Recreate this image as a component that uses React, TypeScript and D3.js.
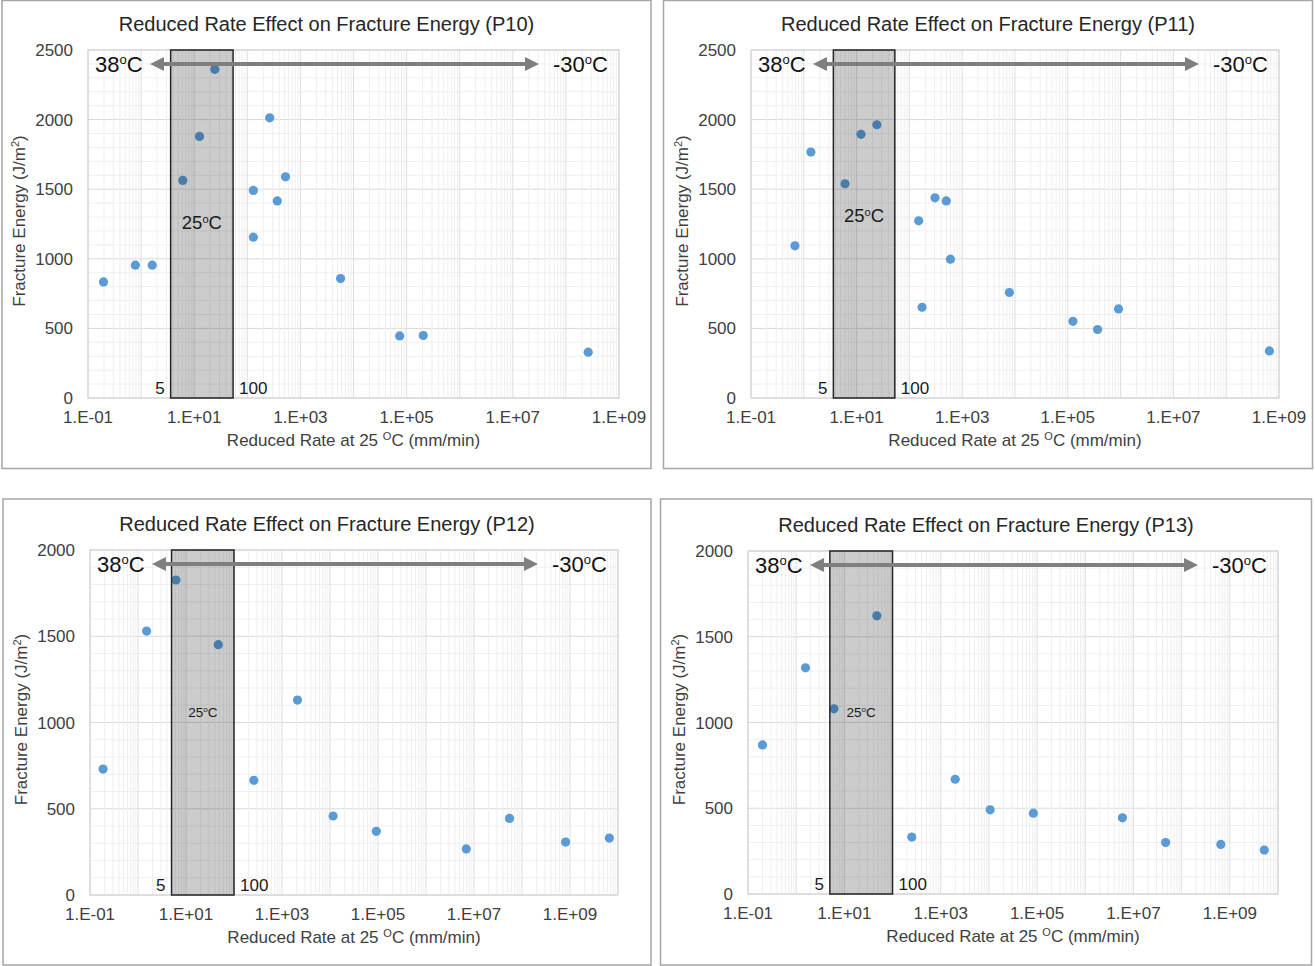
import React from "react";
import * as d3 from "d3";

// ---------- data ----------
const p10Rates = [0.196, 0.78, 1.62, 6.1, 12.6, 24.4, 130, 130, 264, 367, 525, 5710, 74000, 206000, 2.63e8];
const p10Energy = [834, 954, 954, 1563, 1879, 2361, 1491, 1155, 2013, 1416, 1589, 858, 446, 449, 329];

const p11Rates = [0.68, 1.36, 6.05, 12.1, 24.2, 150, 174, 305, 499, 599, 7830, 125000, 366000, 912000, 6.58e8];
const p11Energy = [1093, 1767, 1539, 1894, 1963, 1273, 652, 1438, 1416, 997, 758, 551, 492, 640, 338];

const p12Rates = [0.187, 1.51, 6.17, 47, 259, 2100, 11600, 92300, 6.9e6, 5.5e7, 8.1e8, 6.6e9];
const p12Energy = [730, 1530, 1826, 1451, 665, 1130, 458, 369, 267, 444, 307, 330];

const p13Rates = [0.2, 1.56, 6.08, 47.2, 251, 1995, 10600, 83700, 5.9e6, 4.65e7, 6.5e8, 5.2e9];
const p13Energy = [869, 1319, 1080, 1622, 332, 669, 491, 471, 444, 300, 289, 256];

// shaded 25°C band (drawn extent, in mm/min)
const p10Band = [3.6, 54];
const p11Band = [3.63, 53];
const p12Band = [5, 100];
const p13Band = [5, 100];

const xTickValues = [1e-1, 1e1, 1e3, 1e5, 1e7, 1e9];
const xTickLabels = ["1.E-01", "1.E+01", "1.E+03", "1.E+05", "1.E+07", "1.E+09"];
const yTicksTop = [0, 500, 1000, 1500, 2000, 2500];
const yTicksBottom = [0, 500, 1000, 1500, 2000];
const bandLabels = ["5", "100"];

const FONT = "'Liberation Sans', Arial, Helvetica, sans-serif";

type PanelCfg = {
  name: string;
  rates: number[];
  energy: number[];
  band: number[];
  yTicks: number[];
  xMax: number;
  frame: { x: number; y: number; w: number; h: number };
  plot: { l: number; r: number; t: number; b: number };
  bandFont: number;
  bandLabelY: number;
};

const panels: PanelCfg[] = [
  {
    name: "P10", rates: p10Rates, energy: p10Energy, band: p10Band, yTicks: yTicksTop, xMax: 1e9,
    frame: { x: 2, y: 0.5, w: 649, h: 468 }, plot: { l: 88, r: 619, t: 50, b: 398 }, bandFont: 18.5, bandLabelY: 172,
  },
  {
    name: "P11", rates: p11Rates, energy: p11Energy, band: p11Band, yTicks: yTicksTop, xMax: 1e9,
    frame: { x: 663.5, y: 0.5, w: 649, h: 468 }, plot: { l: 751, r: 1279, t: 50, b: 398 }, bandFont: 18.5, bandLabelY: 165,
  },
  {
    name: "P12", rates: p12Rates, energy: p12Energy, band: p12Band, yTicks: yTicksBottom, xMax: 1e10,
    frame: { x: 3, y: 499, w: 648, h: 466 }, plot: { l: 90, r: 618, t: 550, b: 895 }, bandFont: 13.5, bandLabelY: 162,
  },
  {
    name: "P13", rates: p13Rates, energy: p13Energy, band: p13Band, yTicks: yTicksBottom, xMax: 1e10,
    frame: { x: 660.5, y: 499, w: 651, h: 466 }, plot: { l: 748, r: 1278, t: 551, b: 894 }, bandFont: 13.5, bandLabelY: 161,
  },
];

function Sup({ children, size, shift }: { children: any; size: number; shift: number }) {
  return (
    <tspan fontSize={size} baselineShift={shift}>
      {children}
    </tspan>
  );
}

function Panel({ cfg }: { cfg: PanelCfg }) {
  const { plot, frame } = cfg;
  const yMax = cfg.yTicks[cfg.yTicks.length - 1];
  const x = d3.scaleLog().domain([1e-1, cfg.xMax]).range([plot.l, plot.r]);
  const y = d3.scaleLinear().domain([0, yMax]).range([plot.b, plot.t]);

  const minorY = d3.range(0, yMax + 1, 100);
  const minExp = -1;
  const maxExp = Math.round(Math.log10(cfg.xMax));
  const decades = d3.range(minExp, maxExp + 1).map((e) => Math.pow(10, e));
  const minorX: number[] = [];
  decades.forEach((d) => {
    if (d >= cfg.xMax) return;
    for (let m = 2; m <= 9; m++) minorX.push(d * m);
  });

  const cx = (plot.l + plot.r) / 2;
  const cy = (plot.t + plot.b) / 2;
  const arrowY = plot.t + 14;
  const a1 = plot.l + 62;
  const a2 = plot.r - 80;
  const bandL = x(cfg.band[0]);
  const bandR = x(cfg.band[1]);

  return (
    <g fontFamily={FONT}>
      <rect x={frame.x} y={frame.y} width={frame.w} height={frame.h} fill="#fff" stroke="#a6a6a6" strokeWidth={1.5} />
      <text x={(frame.x * 2 + frame.w) / 2} y={plot.t - 19} textAnchor="middle" fontSize={20} fill="#262626">
        {`Reduced Rate Effect on Fracture Energy (${cfg.name})`}
      </text>

      {/* grid */}
      {minorY.map((v) => (
        <line key={"my" + v} x1={plot.l} x2={plot.r} y1={y(v)} y2={y(v)} stroke={v % 500 === 0 ? "#d9d9d9" : "#efefef"} strokeWidth={1} />
      ))}
      {minorX.map((v, i) => (
        <line key={"mx" + i} x1={x(v)} x2={x(v)} y1={plot.t} y2={plot.b} stroke="#efefef" strokeWidth={1} />
      ))}
      {decades.map((v, i) => (
        <line key={"dx" + i} x1={x(v)} x2={x(v)} y1={plot.t} y2={plot.b} stroke="#dedede" strokeWidth={1} />
      ))}
      <rect x={plot.l} y={plot.t} width={plot.r - plot.l} height={plot.b - plot.t} fill="none" stroke="#d0d0d0" strokeWidth={1} />

      {/* points */}
      {cfg.rates.map((r, i) => (
        <circle key={"p" + i} cx={x(r)} cy={y(cfg.energy[i])} r={4.6} fill="#5b9bd5" />
      ))}

      {/* 25°C band */}
      <rect x={bandL} y={plot.t} width={bandR - bandL} height={plot.b - plot.t} fill="#000" fillOpacity={0.2} stroke="#262626" strokeWidth={1.5} />
      <text x={(bandL + bandR) / 2} y={plot.t + cfg.bandLabelY + cfg.bandFont * 0.36} textAnchor="middle" fontSize={cfg.bandFont} fill="#1a1a1a">
        25<Sup size={cfg.bandFont * 0.6} shift={cfg.bandFont * 0.35}>o</Sup>C
      </text>
      <text x={bandL - 6} y={plot.b - 4} textAnchor="end" fontSize={17} fill="#1a1a1a">{bandLabels[0]}</text>
      <text x={bandR + 6} y={plot.b - 4} textAnchor="start" fontSize={17} fill="#1a1a1a">{bandLabels[1]}</text>

      {/* temperature arrow */}
      <line x1={a1 + 10} x2={a2 - 10} y1={arrowY} y2={arrowY} stroke="#7f7f7f" strokeWidth={4} />
      <path d={`M${a1},${arrowY} L${a1 + 14},${arrowY - 7} L${a1 + 14},${arrowY + 7} Z`} fill="#7f7f7f" />
      <path d={`M${a2},${arrowY} L${a2 - 14},${arrowY - 7} L${a2 - 14},${arrowY + 7} Z`} fill="#7f7f7f" />
      <text x={plot.l + 7} y={arrowY + 8} fontSize={22} fill="#111" textAnchor="start">
        38<Sup size={13} shift={8}>o</Sup>C
      </text>
      <text x={plot.r - 66} y={arrowY + 8} fontSize={22} fill="#111" textAnchor="start">
        -30<Sup size={13} shift={8}>o</Sup>C
      </text>

      {/* axes labels */}
      {cfg.yTicks.map((v) => (
        <text key={"yt" + v} x={plot.l - 15} y={y(v) + 6} textAnchor="end" fontSize={17} fill="#404040">{v}</text>
      ))}
      {xTickValues.map((v, i) => (
        <text key={"xt" + i} x={x(v)} y={plot.b + 25} textAnchor="middle" fontSize={17} fill="#404040">{xTickLabels[i]}</text>
      ))}
      <text x={cx} y={plot.b + 48} textAnchor="middle" fontSize={17} fill="#404040">
        Reduced Rate at 25 <Sup size={11} shift={6}>O</Sup>C (mm/min)
      </text>
      <text transform={`translate(${plot.l - 63},${cy - 3}) rotate(-90)`} textAnchor="middle" fontSize={17} fill="#404040">
        Fracture Energy (J/m<Sup size={11} shift={6}>2</Sup>)
      </text>
    </g>
  );
}

export default function App() {
  return (
    <svg width={1315} height={966} style={{ position: "absolute", left: 0, top: 0, background: "#fff" }}>
      <rect x={0} y={0} width={1315} height={966} fill="#fff" />
      {panels.map((p) => (
        <Panel key={p.name} cfg={p} />
      ))}
    </svg>
  );
}
